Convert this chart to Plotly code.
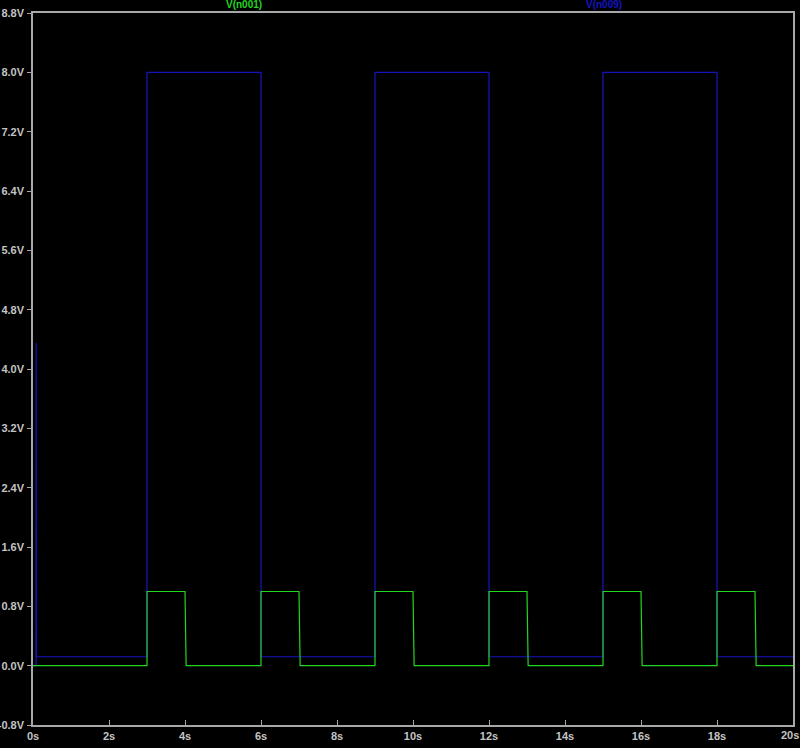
import plotly.graph_objects as go

# Data
blue_t = [0, 0.08, 0.085, 0.09, 3, 3, 6, 6, 9, 9, 12, 12, 15, 15, 18, 18, 20]
blue_v = [0, 0, 4.35, 0.12, 0.12, 8.0, 8.0, 0.12, 0.12, 8.0, 8.0, 0.12, 0.12, 8.0, 8.0, 0.12, 0.12]

green_t = [0, 3, 3, 4, 4.03, 6, 6, 7, 7.03, 9, 9, 10, 10.03, 12, 12, 13, 13.03,
           15, 15, 16, 16.03, 18, 18, 19, 19.03, 20]
green_v = [0, 0, 1.0, 1.0, 0, 0, 1.0, 1.0, 0, 0, 1.0, 1.0, 0, 0, 1.0, 1.0, 0,
           0, 1.0, 1.0, 0, 0, 1.0, 1.0, 0, 0]

y_ticks = [-0.8, 0.0, 0.8, 1.6, 2.4, 3.2, 4.0, 4.8, 5.6, 6.4, 7.2, 8.0, 8.8]
x_ticks = [0, 2, 4, 6, 8, 10, 12, 14, 16, 18, 20]

green = "#22d622"
blue = "#1414c0"
gray = "#a8a8a8"
label_gray = "#c4c4c4"

fig = go.Figure()
fig.add_trace(go.Scatter(x=blue_t, y=blue_v, mode="lines", line=dict(color=blue, width=1.2),
                         name="V(n009)", showlegend=False, hoverinfo="skip"))
fig.add_trace(go.Scatter(x=green_t, y=green_v, mode="lines", line=dict(color=green, width=1.2),
                         name="V(n001)", showlegend=False, hoverinfo="skip"))

ff = "Arial, Liberation Sans, sans-serif"
font = dict(family=ff, size=11, color=label_gray)

fig.update_layout(
    width=800, height=748,
    paper_bgcolor="black", plot_bgcolor="black",
    margin=dict(l=33, r=7, t=13, b=23),
    xaxis=dict(range=[0, 20], tickvals=x_ticks, ticktext=[f"<b>{v}s</b>" for v in x_ticks],
               showgrid=False, zeroline=False, showline=True, linecolor=gray, linewidth=1.5,
               mirror=True, ticks="inside", ticklen=5, tickcolor=gray, tickfont=font,
               automargin=False),
    yaxis=dict(range=[-0.8, 8.8], tickvals=y_ticks, ticktext=[f"<b>{v:.1f}V</b>" for v in y_ticks],
               showgrid=False, zeroline=False, showline=True, linecolor=gray, linewidth=1.5,
               mirror=True, ticks="outside", ticklen=4, tickcolor=gray, tickfont=font,
               ticklabelstandoff=1, automargin=False),
    annotations=[
        dict(text="<b>V(n001)</b>", x=222 / 800, y=1.0, xref="paper", yref="paper",
             xanchor="center", yanchor="middle", yshift=9, showarrow=False,
             font=dict(family=ff, size=10, color=green)),
        dict(text="<b>V(n009)</b>", x=601 / 800, y=1.0, xref="paper", yref="paper",
             xanchor="center", yanchor="middle", yshift=9, showarrow=False,
             font=dict(family=ff, size=10, color=blue)),
        # last x tick label, kept inside the page edge like the reference
        dict(text=f"<b>{x_ticks[-1]}s</b>", x=1.0, y=0.0, xref="paper", yref="paper",
             xanchor="right", yanchor="top", xshift=8, yshift=-2, showarrow=False,
             font=font),
    ],
)

fig.write_html("out.html", config={"displayModeBar": False},
               post_script="document.body.style.margin='0';document.body.style.background='black';")
